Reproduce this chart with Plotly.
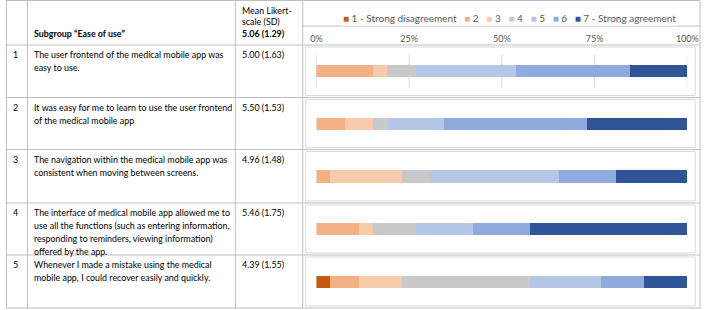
import plotly.graph_objects as go

# ---------------- data ----------------
item_ids = ["1", "2", "3", "4", "5"]
item_texts = [
    "The user frontend of the medical mobile app was<br>easy to use.",
    "It was easy for me to learn to use the user frontend<br>of the medical mobile app",
    "The navigation within the medical mobile app was<br>consistent when moving between screens.",
    "The interface of medical mobile app allowed me to<br>use all the functions (such as entering information,<br>responding to reminders, viewing information)<br>offered by the app.",
    "Whenever I made a mistake using the medical<br>mobile app, I could recover easily and quickly.",
]
item_means = ["5.00 (1.63)", "5.50 (1.53)", "4.96 (1.48)", "5.46 (1.75)", "4.39 (1.55)"]
subgroup_label = "Subgroup \u201cEase of use\u201d"
subgroup_mean = "5.06 (1.29)"
mean_header = "Mean Likert-<br>scale (SD)"

level_names = ["1 - Strong disagreement", "2", "3", "4", "5", "6", "7 - Strong agreement"]
level_colors = ["#C55A11", "#F4B183", "#F8CBAD", "#C9C9C9", "#B4C7E7", "#8FAADC", "#2F5597"]
# respondent counts per answer level (n = 26) for items 1..5
counts_1 = [0, 0, 0, 0, 1]
counts_2 = [4, 2, 1, 3, 2]
counts_3 = [1, 2, 5, 1, 3]
counts_4 = [2, 1, 2, 3, 9]
counts_5 = [7, 4, 9, 4, 5]
counts_6 = [8, 10, 4, 4, 3]
counts_7 = [4, 7, 5, 11, 3]
tick_values = [0, 25, 50, 75, 100]
tick_labels = ["0%", "25%", "50%", "75%", "100%"]

# ---------------- layout helpers ----------------
W, H = 712, 310
def px(x):
    return x / W
def py(y):
    return 1 - y / H

levels = [counts_1, counts_2, counts_3, counts_4, counts_5, counts_6, counts_7]
totals = [sum(c[i] for c in levels) for i in range(len(item_ids))]

fig = go.Figure()
for name, color, cnt in zip(level_names, level_colors, levels):
    fig.add_trace(go.Bar(
        y=item_ids,
        x=[100 * v / t for v, t in zip(cnt, totals)],
        orientation="h", name=name,
        marker=dict(color=color, line=dict(width=0)),
        width=0.23, showlegend=False, hoverinfo="x+name",
    ))

row_lines = [45, 97.5, 149.5, 203, 255, 308]
col_x = [0.5, 22, 235, 304, 711]
GRID = "#BFBFBF"
BOX = "#D9D9D9"
shapes = []
for y in [0.5] + row_lines:
    shapes.append(dict(type="line", xref="paper", yref="paper", x0=px(0), x1=px(711),
                       y0=py(y), y1=py(y), line=dict(color=GRID, width=1)))
shapes.append(dict(type="line", xref="paper", yref="paper", x0=px(304), x1=px(711),
                   y0=py(26), y1=py(26), line=dict(color=GRID, width=1)))
for x in col_x:
    shapes.append(dict(type="line", xref="paper", yref="paper", x0=px(x), x1=px(x),
                       y0=py(0.5), y1=py(308), line=dict(color=GRID, width=1)))
for top, bot in zip(row_lines[:-1], row_lines[1:]):
    shapes.append(dict(type="rect", xref="paper", yref="paper", x0=px(307), x1=px(706),
                       y0=py(bot - 2), y1=py(top + 2), line=dict(color=BOX, width=1)))
for tv in tick_values:
    shapes.append(dict(type="line", xref="x", yref="paper", x0=tv, x1=tv,
                       y0=py(88), y1=py(55), line=dict(color=BOX, width=1), layer="below"))

FONT = "Lato, 'Liberation Sans', sans-serif"
FS = 8.9
LINE = 13
TXT = "#000000"
ann = []

def add_text(x, y, text, anchor="top"):
    ann.append(dict(x=px(x), y=py(y), xref="paper", yref="paper", xanchor="left",
                    yanchor=anchor, text=text, showarrow=False, align="left",
                    font=dict(family=FONT, size=FS, color=TXT)))

for k, line in enumerate(mean_header.split("<br>")):
    add_text(240, 3 + k * 11.5, line)
add_text(27, 34, f"<b>{subgroup_label}</b>", "middle")
add_text(240, 34, f"<b>{subgroup_mean}</b>", "middle")
for i, (num, txt, mn) in enumerate(zip(item_ids, item_texts, item_means)):
    top = row_lines[i] + 2
    add_text(5, top, num)
    add_text(240, top, mn)
    for k, line in enumerate(txt.split("<br>")):
        add_text(27, top + k * LINE, line)

legend_text = "   ".join(
    f"<span style='color:{c}'>\u25A0</span> {n}" for n, c in zip(level_names, level_colors))
ann.append(dict(x=px(516), y=py(18), xref="paper", yref="paper", xanchor="center", yanchor="middle",
                text=legend_text, showarrow=False, bgcolor="white",
                font=dict(family=FONT, size=10, color="#595959")))

fig.update_layout(
    width=W, height=H,
    margin=dict(l=0, r=0, t=0, b=0),
    paper_bgcolor="white", plot_bgcolor="rgba(0,0,0,0)",
    barmode="stack", bargap=0,
    shapes=shapes, annotations=ann, showlegend=False,
    xaxis=dict(domain=[px(318), px(698)], range=[0, 100], side="top",
               tickmode="array", tickvals=tick_values, ticktext=tick_labels,
               showgrid=False, zeroline=False, showline=False, ticks="", fixedrange=True,
               tickfont=dict(family=FONT, size=9, color="#595959")),
    yaxis=dict(domain=[py(308), py(45)], categoryorder="array", categoryarray=item_ids,
               autorange="reversed", showticklabels=False, showgrid=False, zeroline=False,
               showline=False, ticks="", fixedrange=True),
)
fig.write_html(
    "out.html",
    config={"displayModeBar": False, "responsive": False},
    post_script=("document.body.style.margin='0';"
                 "document.body.style.overflow='hidden';"
                 "document.documentElement.style.overflow='hidden';"),
)
